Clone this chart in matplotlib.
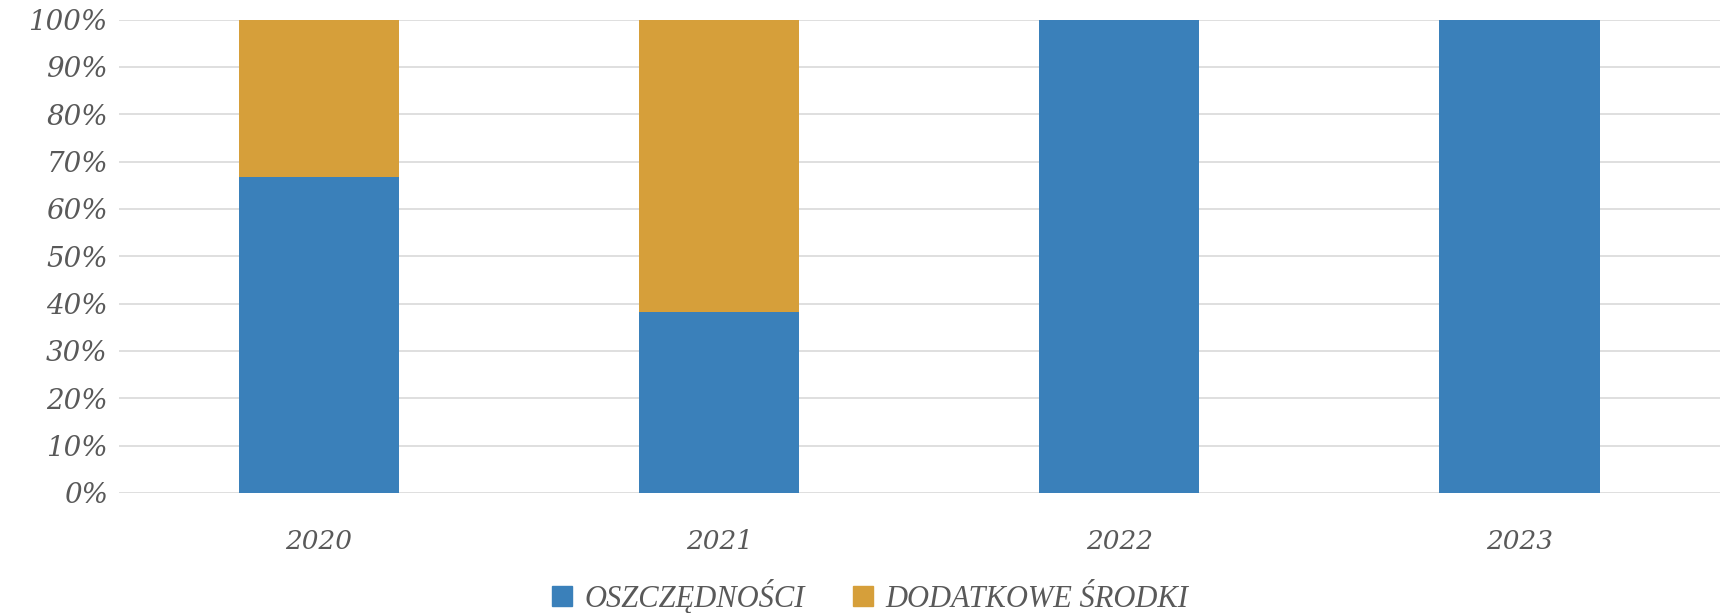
import numpy as np
import matplotlib.pyplot as plt
from matplotlib.patches import Patch
from matplotlib.ticker import PercentFormatter

years = ['2020', '2021', '2022', '2023']
oszczednosci = [0.667, 0.382, 1.0, 1.0]
dodatkowe = [0.333, 0.618, 0.0, 0.0]
series_names = ['OSZCZĘDNOŚCI', 'DODATKOWE ŚRODKI']

blue = '#3A80BA'
orange = '#D69F3A'
txt = '#595959'

my_dpi = 100
fig = plt.figure(figsize=(1723/my_dpi, 613/my_dpi), dpi=my_dpi)
ax = fig.add_axes([0.069, 0.196, 0.929, 0.772])

x = np.arange(len(years))
ax.bar(x, oszczednosci, width=0.4, color=blue, zorder=3)
ax.bar(x, dodatkowe, width=0.4, bottom=oszczednosci, color=orange, zorder=3)

ax.set_xlim(-0.5, len(years)-0.5)
ax.set_ylim(0, 1)
ax.set_yticks(np.arange(0, 1.01, 0.1))
ax.yaxis.set_major_formatter(PercentFormatter(1.0, decimals=0))
ax.set_xticks(x)
ax.set_xticklabels(years)
ax.grid(axis='y', color='#D9D9D9', linewidth=1.2, zorder=0)
for s in ax.spines.values():
    s.set_visible(False)
ax.tick_params(length=0, colors=txt)
ax.tick_params(axis='x', pad=26, labelsize=19)
ax.tick_params(axis='y', pad=8, labelsize=20)
for lab in ax.get_xticklabels() + ax.get_yticklabels():
    lab.set_family('DejaVu Serif')
    lab.set_style('italic')

handles = [Patch(color=blue), Patch(color=orange)]
leg = fig.legend(handles, series_names, loc='center', bbox_to_anchor=(0.505, 0.027),
                 ncol=2, frameon=False, handlelength=0.65, handleheight=0.65,
                 handletextpad=0.4, columnspacing=1.6,
                 prop={'family': 'Liberation Serif', 'style': 'italic', 'size': 22})
for t in leg.get_texts():
    t.set_color(txt)

fig.savefig('out.png', dpi=my_dpi)
plt.close()
